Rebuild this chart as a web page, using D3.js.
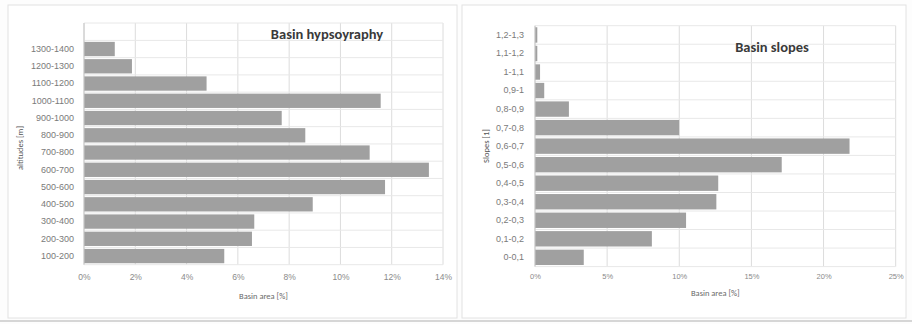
<!DOCTYPE html>
<html><head><meta charset="utf-8">
<script src="https://cdn.jsdelivr.net/npm/d3@7"></script>
<style>
body{margin:0;background:#fff;}
svg{display:block;font-family:Calibri,"Open Sans","Liberation Sans",sans-serif;}
</style></head>
<body><svg id="c" width="912" height="324"></svg>
<script>
const altCategories = ["100-200","200-300","300-400","400-500","500-600","600-700","700-800","800-900","900-1000","1000-1100","1100-1200","1200-1300","1300-1400"];
const altValues = [5.47,6.55,6.64,8.92,11.74,13.45,11.14,8.63,7.71,11.57,4.78,1.87,1.2];
const altTicks = [0,2,4,6,8,10,12,14];

const slopeCategories = ["0-0,1","0,1-0,2","0,2-0,3","0,3-0,4","0,4-0,5","0,5-0,6","0,6-0,7","0,7-0,8","0,8-0,9","0,9-1","1-1,1","1,1-1,2","1,2-1,3"];
const slopeValues = [3.38,8.1,10.47,12.57,12.7,17.1,21.8,9.99,2.35,0.64,0.35,0.16,0.16];
const slopeTicks = [0,5,10,15,20,25];

const svg = d3.select("#c");
svg.append("rect").attr("width",912).attr("height",324).attr("fill","#fdfdfd");

function panel(o){
  const g = svg.append("g");
  g.append("rect").attr("x",o.fx).attr("y",5).attr("width",o.fw).attr("height",313)
    .attr("fill","#ffffff").attr("stroke","#e2e2e2").attr("stroke-width",1);
  const x = d3.scaleLinear().domain([0,o.ticks[o.ticks.length-1]]).range([o.x0,o.x1]);
  const y = d3.scaleBand().domain(o.cats).range([o.yb,o.yc]).paddingInner(0.17).paddingOuter(0.085);
  const step = y.step();
  g.selectAll("line.vg").data(o.ticks).join("line")
    .attr("x1",d=>x(d)).attr("x2",d=>x(d)).attr("y1",o.yt).attr("y2",o.yb)
    .attr("stroke","#dcdcdc").attr("stroke-width",1);
  const bounds = d3.range(o.cats.length+1).map(i=>o.yb - i*step);
  if (o.yt < o.yc - 2) bounds.push(o.yt);
  g.selectAll("line.hg").data(bounds).join("line")
    .attr("x1",o.x0).attr("x2",o.x1).attr("y1",d=>d).attr("y2",d=>d)
    .attr("stroke","#e8e8e8").attr("stroke-width",1);
  g.selectAll("rect.bar").data(o.vals).join("rect")
    .attr("x",x(0)).attr("y",(d,i)=>y(o.cats[i]))
    .attr("width",d=>x(d)-x(0)).attr("height",y.bandwidth())
    .attr("fill","#a0a0a0");
  g.append("line").attr("x1",o.x0).attr("x2",o.x0).attr("y1",o.yt).attr("y2",o.yb)
    .attr("stroke","#c8c8c8");
  const ya = d3.axisLeft(y).tickSize(0).tickPadding(8);
  const yg = g.append("g").attr("transform",`translate(${o.x0 - o.labelGap},0)`).call(ya);
  yg.select(".domain").remove();
  yg.selectAll("text").attr("fill","#7a7a7a").attr("font-size",9);
  const xa = d3.axisBottom(x).tickValues(o.ticks).tickFormat(d=>d+"%").tickSize(0).tickPadding(0);
  const xg = g.append("g").attr("transform",`translate(0,${o.xly})`).call(xa);
  xg.select(".domain").remove();
  xg.selectAll("text").attr("fill","#8a8a8a").attr("font-size",o.xfs);
  g.append("text").attr("x",(o.x0+o.x1)/2).attr("y",o.xty).attr("text-anchor","middle")
    .attr("font-size",8.5).attr("fill","#6a6a6a").text("Basin area [%]");
  g.append("text").attr("transform",`translate(${o.ytx},${o.yty}) rotate(-90)`)
    .attr("text-anchor","middle").attr("font-size",8.5).attr("fill","#555").text(o.ytitle);
  g.append("text").attr("x",o.tx).attr("y",o.ty).attr("text-anchor","middle")
    .attr("font-size",14.5).attr("font-weight","bold").attr("fill","#3a3a3a").text(o.title);
}

panel({fx:8,fw:449,cats:altCategories,vals:altValues,ticks:altTicks,
  x0:84,x1:443,yt:23,yc:40.4,yb:264.7,labelGap:2,xly:274,xfs:8.5,xty:299,
  ytx:23,yty:148,ytitle:"altitudes [m]",title:"Basin hypsoyraphy",tx:327,ty:39});
panel({fx:462,fw:444,cats:slopeCategories,vals:slopeValues,ticks:slopeTicks,
  x0:535,x1:895.7,yt:25.7,yc:25.7,yb:266.6,labelGap:3,xly:274,xfs:7.5,xty:296,
  ytx:489,yty:146,ytitle:"Slopes [1]",title:"Basin slopes",tx:772,ty:52});

svg.append("line").attr("x1",0).attr("x2",912).attr("y1",321).attr("y2",321)
  .attr("stroke","#b0b0b0").attr("stroke-width",1.2);
</script></body></html>
